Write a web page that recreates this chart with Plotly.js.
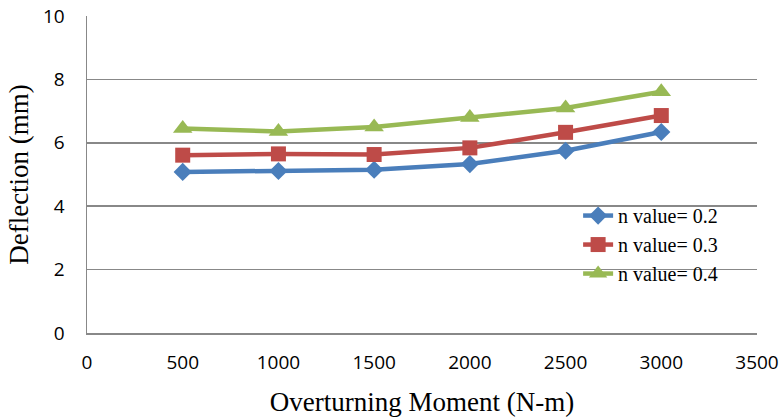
<!DOCTYPE html>
<html>
<head>
<meta charset="utf-8">
<script src="https://cdn.plot.ly/plotly-3.0.1.min.js"></script>
<style>html,body{margin:0;padding:0;background:#fff}#chart{width:781px;height:417px}</style>
</head>
<body>
<div id="chart"></div>
<script>
// Overturning moment (N-m) applied
const moment = [500, 1000, 1500, 2000, 2500, 3000];
// Deflection (mm) for each n value
const n02 = [5.08, 5.11, 5.15, 5.33, 5.75, 6.34];
const n03 = [5.61, 5.65, 5.63, 5.84, 6.33, 6.86];
const n04 = [6.45, 6.36, 6.50, 6.80, 7.10, 7.61];
const seriesNames = ['n value= 0.2', 'n value= 0.3', 'n value= 0.4'];

const colors = ['#4a7ebb', '#be4b48', '#98b954'];
const symbols = ['diamond', 'square', 'triangle-up'];
const sizes = [14, 15, 17];

const traces = [n02, n03, n04].map((ys, i) => ({
  x: moment, y: ys, name: seriesNames[i], type: 'scatter', mode: 'lines+markers',
  line: {color: colors[i], width: 4.5},
  marker: {symbol: symbols[i], size: sizes[i], color: colors[i]}
}));

const tickFont = {family: 'Open Sans', size: 19, color: '#000'};
const titleFont = {family: 'Liberation Serif', size: 27, color: '#000'};

const layout = {
  width: 781, height: 417,
  margin: {l: 87, r: 24, t: 16, b: 84},
  paper_bgcolor: '#fff', plot_bgcolor: '#fff',
  showlegend: true,
  legend: {x: 0.733, y: 0.432, xanchor: 'left', yanchor: 'top', bgcolor: 'rgba(0,0,0,0)',
    font: {family: 'Liberation Serif', size: 20, color: '#000'}, tracegroupgap: 0},
  xaxis: {
    range: [0, 3500], dtick: 500, tick0: 0, showgrid: false, zeroline: false,
    showline: true, linecolor: '#888', linewidth: 1.5,
    ticks: 'outside', ticklen: 12, tickcolor: 'rgba(0,0,0,0)',
    tickfont: tickFont,
    title: {text: 'Overturning Moment (N-m)', font: titleFont, standoff: 18}
  },
  yaxis: {
    range: [0, 10], dtick: 2, showgrid: true, gridcolor: '#888', gridwidth: 1.5, zeroline: false,
    showline: true, linecolor: '#888', linewidth: 1.5,
    ticks: 'outside', ticklen: 17, tickcolor: 'rgba(0,0,0,0)',
    tickfont: tickFont,
    title: {text: 'Deflection (mm)', font: titleFont, standoff: 6}
  }
};

Plotly.newPlot('chart', traces, layout, {displayModeBar: false, staticPlot: true});
</script>
</body>
</html>
